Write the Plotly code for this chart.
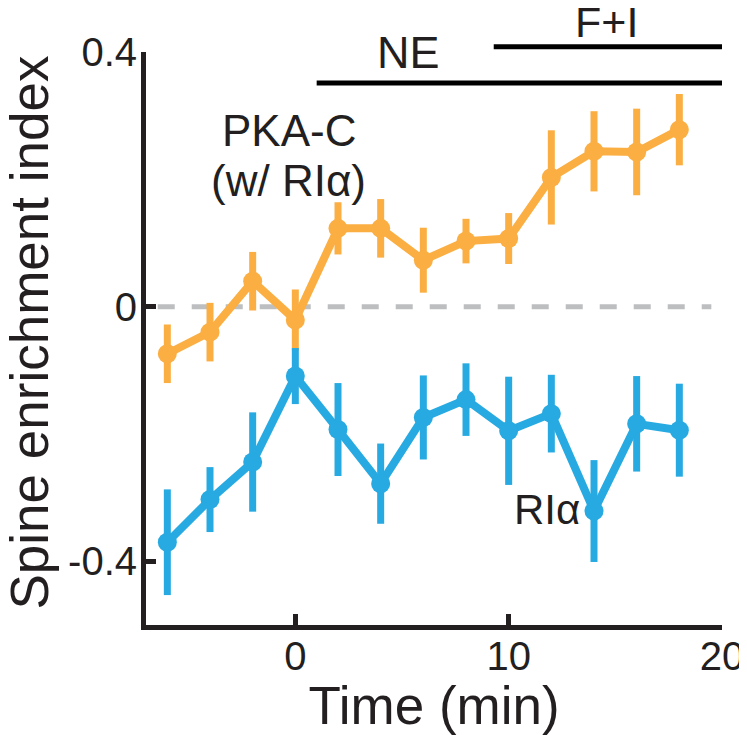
import plotly.graph_objects as go

# ---- data ----
time_min = [-6, -4, -2, 0, 2, 4, 6, 8, 10, 12, 14, 16, 18]

pka_c = [-0.074, -0.040, 0.040, -0.021, 0.123, 0.123, 0.073, 0.103, 0.107, 0.203, 0.244, 0.243, 0.278]
pka_c_err = [0.046, 0.046, 0.046, 0.048, 0.041, 0.046, 0.051, 0.035, 0.040, 0.074, 0.063, 0.068, 0.056]

ri_alpha = [-0.370, -0.303, -0.244, -0.109, -0.193, -0.278, -0.174, -0.146, -0.195, -0.168, -0.321, -0.184, -0.194]
ri_alpha_err = [0.083, 0.051, 0.078, 0.044, 0.073, 0.063, 0.066, 0.057, 0.085, 0.061, 0.080, 0.075, 0.073]

x_ticks = [0, 10, 20]
x_ticktext = ["0", "10", "20"]
y_ticks = [-0.4, 0, 0.4]
y_ticktext = ["-0.4", "0", "0.4"]

# treatment periods (min)
ne_period = [1, 20]
fi_period = [9.3, 20]

ORANGE = "#FBAE42"
BLUE = "#27AAE1"
INK = "#231F20"
FONT = "Liberation Sans, Arial, sans-serif"

fig = go.Figure()

fig.add_trace(go.Scatter(
    x=time_min, y=pka_c, mode="lines+markers",
    line=dict(color=ORANGE, width=8),
    marker=dict(color=ORANGE, size=19),
    error_y=dict(type="data", array=pka_c_err, visible=True,
                 color=ORANGE, thickness=7, width=0),
    showlegend=False, cliponaxis=False,
))
fig.add_trace(go.Scatter(
    x=time_min, y=ri_alpha, mode="lines+markers",
    line=dict(color=BLUE, width=8),
    marker=dict(color=BLUE, size=19),
    error_y=dict(type="data", array=ri_alpha_err, visible=True,
                 color=BLUE, thickness=7, width=0),
    showlegend=False, cliponaxis=False,
))

# zero reference line
fig.add_shape(type="line", xref="x", yref="y", x0=-6.45, x1=19.5, y0=0, y1=0,
              line=dict(color="#BCBEC0", width=5, dash="17px,17px"), layer="below")

# treatment bars
fig.add_shape(type="line", xref="x", yref="paper", x0=ne_period[0], x1=ne_period[1],
              y0=0.946, y1=0.946, line=dict(color="black", width=5))
fig.add_shape(type="line", xref="x", yref="paper", x0=fi_period[0], x1=fi_period[1],
              y0=1.009, y1=1.009, line=dict(color="black", width=5))

anns = [
    dict(x=5.3, y=1.0, yref="paper", text="NE", size=45),
    dict(x=14.6, y=1.052, yref="paper", text="F+I", size=43),
    dict(x=-0.3, y=0.276, yref="y", text="PKA-C", size=44),
    dict(x=-0.3, y=0.198, yref="y", text="(w/ RIα)", size=44),
    dict(x=11.8, y=-0.319, yref="y", text="RIα", size=42),
]
for a in anns:
    fig.add_annotation(x=a["x"], y=a["y"], xref="x", yref=a["yref"], text=a["text"],
                       showarrow=False, xanchor="center", yanchor="middle",
                       font=dict(family=FONT, size=a["size"], color=INK))

# y-axis title
fig.add_annotation(x=0, y=0.5, xref="paper", yref="paper", text="Spine enrichment index",
                   textangle=-90, showarrow=False, xanchor="center", yanchor="middle",
                   xshift=-117, yshift=6,
                   font=dict(family=FONT, size=53, color=INK))

fig.update_layout(
    width=739, height=727,
    margin=dict(l=138, r=25, t=44, b=110, autoexpand=False),
    paper_bgcolor="white", plot_bgcolor="white",
    font=dict(family=FONT, color=INK),
    xaxis=dict(
        range=[-7, 20], tickvals=x_ticks, ticktext=x_ticktext,
        ticks="inside", ticklen=11, tickwidth=5, tickcolor=INK,
        showline=True, linewidth=5, linecolor=INK,
        showgrid=False, zeroline=False, automargin=False,
        tickfont=dict(size=40, color=INK, family=FONT),
        ticklabelstandoff=-8,
        title=dict(text="Time (min)", font=dict(size=53, color=INK, family=FONT)),
    ),
    yaxis=dict(
        range=[-0.5, 0.4], tickvals=y_ticks, ticktext=y_ticktext,
        ticks="inside", ticklen=10, tickwidth=5, tickcolor=INK,
        showline=True, linewidth=5, linecolor=INK,
        showgrid=False, zeroline=False, automargin=False,
        tickfont=dict(size=40, color=INK, family=FONT),
        ticklabelstandoff=-4,
    ),
)

fig.write_html("out.html")
